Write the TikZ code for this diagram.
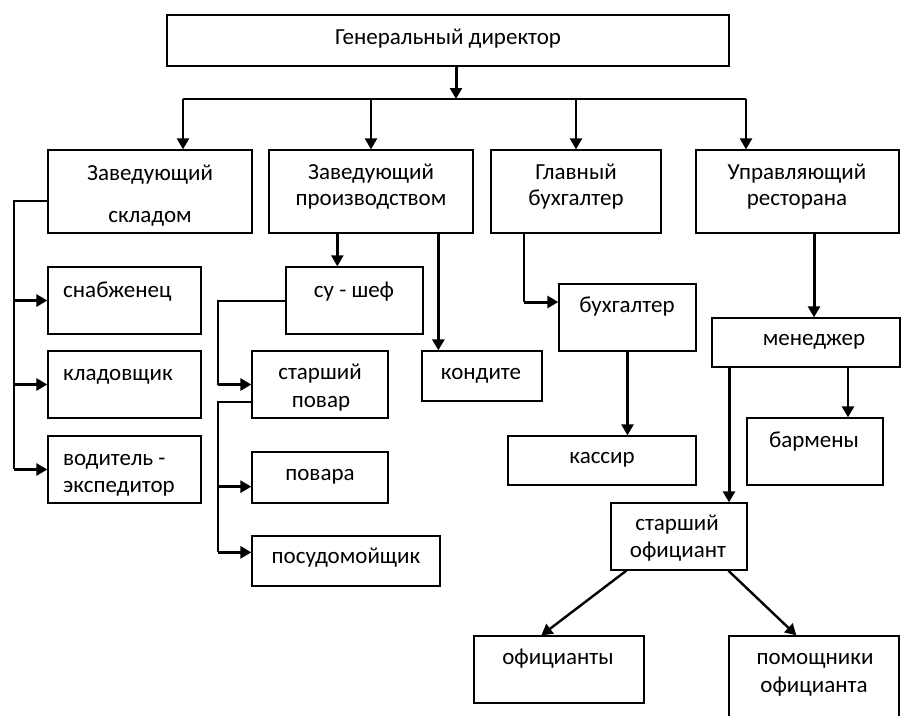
\documentclass[tikz,border=0pt]{standalone}
\usepackage{fontspec}
\setmainfont{Carlito}
\usetikzlibrary{arrows.meta,fit,calc}
\begin{document}
\begin{tikzpicture}[x=1pt,y=-1pt,
  box/.style={draw,line width=1.3pt,inner sep=0pt},
  txt/.style={font=\fontsize{23}{27}\selectfont,inner sep=0pt,anchor=base},
  txtl/.style={txt,anchor=base west},
  thinln/.style={line width=1.3pt},
  arrthick/.style={line width=3pt,-{Triangle[width=12pt,length=11pt]}},
  arrmed/.style={line width=2.4pt,-{Triangle[width=12pt,length=11pt]}}]
\useasboundingbox (0,0) rectangle (902,715);
\clip (0,0) rectangle (902,715);
\fill[white] (0,0) rectangle (902,715);
% boxes
\node[box,fit={(167,15)(729,66)}] (gd) {};
\node[box,fit={(48,150)(252,233)}] (zs) {};
\node[box,fit={(269,150)(473,233)}] (zp) {};
\node[box,fit={(491,150)(661,233)}] (gb) {};
\node[box,fit={(696,150)(899,233)}] (ur) {};
\node[box,fit={(48,267)(201,334)}] (sn) {};
\node[box,fit={(48,351)(201,418)}] (kl) {};
\node[box,fit={(48,436)(201,503)}] (vd) {};
\node[box,fit={(286,267)(423,334)}] (sh) {};
\node[box,fit={(252,351)(388,418)}] (sp) {};
\node[box,fit={(422,351)(542,401)}] (kd) {};
\node[box,fit={(252,452)(388,503)}] (pv) {};
\node[box,fit={(252,536)(440,586)}] (ps) {};
\node[box,fit={(559,284)(696,351)}] (bh) {};
\node[box,fit={(712,318)(900,367)}] (mn) {};
\node[box,fit={(508,436)(696,485)}] (ks) {};
\node[box,fit={(747,418)(883,485)}] (bm) {};
\node[box,fit={(611,503)(747,570)}] (so) {};
\node[box,fit={(474,636)(644,703)}] (of) {};
\node[box,fit={(729,636)(899,730)}] (po) {};
% texts
\node[txt] (t0) at (448,44) {Генеральный директор};
\node[txt] (t1a) at (150,180) {Заведующий};
\node[txt] (t1b) at (150,222) {складом};
\node[txt] (t2a) at (371,179) {Заведующий};
\node[txt] (t2b) at (371,205) {производством};
\node[txt] (t3a) at (576,179) {Главный};
\node[txt] (t3b) at (576,205) {бухгалтер};
\node[txt] (t4a) at (797,179) {Управляющий};
\node[txt] (t4b) at (797,205) {ресторана};
\node[txtl] (t5) at (63,297) {снабженец};
\node[txtl] (t6) at (63,380) {кладовщик};
\node[txtl] (t7a) at (63,465) {водитель -};
\node[txtl] (t7b) at (63,492) {экспедитор};
\node[txt] (t8) at (354,297) {су - шеф};
\node[txt] (t9a) at (320,379) {старший};
\node[txt] (t9b) at (321,407) {повар};
\node[txt] (t10) at (481,379) {кондите};
\node[txt] (t11) at (320,480) {повара};
\node[txt] (t12) at (346,563) {посудомойщик};
\node[txt] (t13) at (627,312) {бухгалтер};
\node[txt] (t14) at (814,345) {менеджер};
\node[txt] (t15) at (602,463) {кассир};
\node[txt] (t16) at (814,447) {бармены};
\node[txt] (t17a) at (677,530) {старший};
\node[txt] (t17b) at (678,557) {официант};
\node[txt] (t18) at (558,664) {официанты};
\node[txt] (t19a) at (815,664) {помощники};
\node[txt] (t19b) at (814,692) {официанта};
% top bus
\coordinate (bus) at (456,99);
\coordinate (b1) at (183,99);
\coordinate (b2) at (371,99);
\coordinate (b3) at (576,99);
\coordinate (b4) at (746,99);
\draw[arrthick] (gd.south -| bus) -- (bus);
\draw[thinln] (b1) -- (b4);
\draw[arrmed] (b1) -- (b1 |- zs.north);
\draw[arrmed] (b2) -- (b2 |- zp.north);
\draw[arrmed] (b3) -- (b3 |- gb.north);
\draw[arrmed] (b4) -- (b4 |- ur.north);
% warehouse branch
\coordinate (l1) at (14,201);
\coordinate (l2) at (14,469);
\draw[thinln] (zs.west |- l1) -- (l1) -- (l2);
\draw[arrthick] (sn.west -| l1) -- (sn.west);
\draw[arrthick] (kl.west -| l1) -- (kl.west);
\draw[arrthick] (vd.west -| l1) -- (vd.west);
% production branch
\draw[arrmed] ($(zp.south west)+(69,0)$) -- ($(sh.north west)+(52,0)$);
\draw[arrthick] ($(zp.south west)+(170,0)$) -- ($(kd.north west)+(17,0)$);
\coordinate (c1) at (218,301);
\coordinate (c2) at (218,402);
\draw[thinln] (sh.west |- c1) -- (c1) -- (c1 |- sp.west);
\draw[arrthick] (c1 |- sp.west) -- (sp.west);
\coordinate (c3) at ($(pv.south west)+(0,-17)$);
\coordinate (c4) at ($(ps.north west)+(0,17)$);
\draw[thinln] (sp.west |- c2) -- (c2) -- (c2 |- c4);
\draw[arrthick] (c2 |- c3) -- (c3);
\draw[arrthick] (c2 |- c4) -- (c4);
% accounting branch
\coordinate (g1) at (524,302);
\draw[thinln] (gb.south -| g1) -- (g1);
\draw[arrthick] (g1) -- (g1 -| bh.west);
\draw[arrmed] (bh.south) -- (bh.south |- ks.north);
% restaurant branch
\coordinate (u1) at (814,0);
\coordinate (u2) at (848,0);
\coordinate (u3) at (729,0);
\draw[arrthick] (ur.south -| u1) -- (mn.north -| u1);
\draw[arrmed] (mn.south -| u2) -- (bm.north -| u2);
\draw[arrthick] (mn.south -| u3) -- (so.north -| u3);
\draw[arrmed] ($(so.south west)+(16,0)$) -- ($(of.north west)+(68,0)$);
\draw[arrmed] ($(so.south west)+(118,0)$) -- ($(po.north west)+(68,0)$);
\end{tikzpicture}
\end{document}
